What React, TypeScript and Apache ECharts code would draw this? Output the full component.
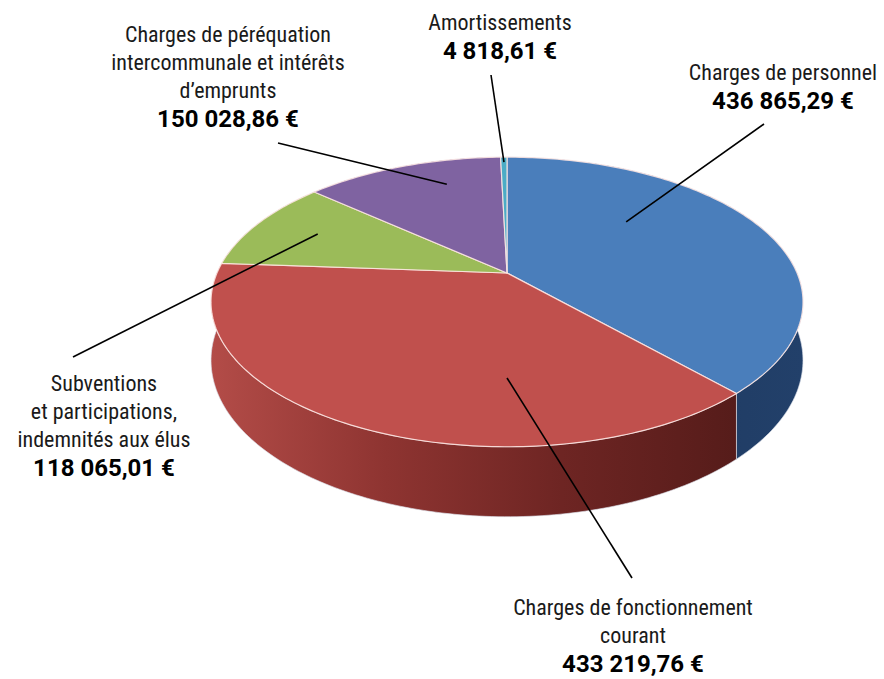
import React, { useEffect, useRef } from 'react';
import * as echarts from 'echarts';

// ---- data ----
const categories: string[] = [
  'Charges de personnel',
  'Charges de fonctionnement\ncourant',
  'Subventions\net participations,\nindemnités aux élus',
  'Charges de péréquation\nintercommunale et intérêts\nd’emprunts',
  'Amortissements',
];
const values: number[] = [436865.29, 433219.76, 118065.01, 150028.86, 4818.61];

// ---- styles ----
const topColors = ['#4a7ebb', '#c0504d', '#9bbb59', '#7f63a1', '#4bacc6'];
const wallStops: string[][] = [
  ['#1d365a', '#22406a'],
  ['#b34c48', '#8e3431', '#6e2523', '#561c1a'],
  ['#6f8a3c', '#5a7330'],
  ['#5a4578', '#4a3866'],
  ['#2f7d92', '#2a6f82'],
];

// label layout: anchor inside slice (theta deg, radius fraction), line end, text centre, first baseline
const labelLayout = [
  { theta: 48.2, r: 0.595, ex: 764, ey: 124, tx: 783, ty: 83 },
  { theta: 180, r: 0.656, ex: 632, ey: 578, tx: 633, ty: 618 },
  { theta: 293.3, r: 0.753, ex: 73, ey: 357, tx: 104, ty: 394 },
  { theta: 342, r: 0.77, ex: 278, ey: 143, tx: 228, ty: 45 },
  { theta: 359.25, r: 0.95, ex: 491, ey: 75, tx: 500, ty: 33 },
];

// ---- geometry of the tilted disc ----
const CX = 507;
const CY = 273;
const RA = 290;
const RB = 139;
const PERSP = 0.2;
const DEPTH = 56;
const FONT = "'Liberation Sans Narrow', 'Roboto Condensed', 'Open Sans', sans-serif";
const BOLD_FONT = "Roboto, 'Open Sans', sans-serif";
const LINE_H = 28;

function proj(theta: number, r: number, drop: number): number[] {
  const u = r * Math.sin(theta);
  const v = r * Math.cos(theta);
  const w = 1 + PERSP * v;
  return [CX + (RA * u) / w, CY - (RB * v) / w + drop / w];
}

function fmt(v: number): string {
  const [i, d] = v.toFixed(2).split('.');
  return i.replace(/\B(?=(\d{3})+(?!\d))/g, ' ') + ',' + d + ' €';
}

const total = values.reduce((a, b) => a + b, 0);
function sliceAngles(idx: number): number[] {
  let acc = 0;
  for (let k = 0; k < idx; k++) acc += values[k];
  const a0 = (acc / total) * Math.PI * 2;
  const a1 = ((acc + values[idx]) / total) * Math.PI * 2;
  return [a0, a1];
}

function arcPoints(a0: number, a1: number, drop: number): number[][] {
  const n = Math.max(2, Math.ceil(((a1 - a0) * 180) / Math.PI));
  const pts: number[][] = [];
  for (let k = 0; k <= n; k++) pts.push(proj(a0 + ((a1 - a0) * k) / n, 1, drop));
  return pts;
}

export default function App() {
  const ref = useRef<HTMLDivElement>(null);
  useEffect(() => {
    if (!ref.current) return;
    const chart = echarts.init(ref.current, undefined, { renderer: 'svg' });

    const graphics: any[] = [];
    values.forEach((v, i) => {
      const L = labelLayout[i];
      const s = proj((L.theta * Math.PI) / 180, L.r, 0);
      graphics.push({
        type: 'line',
        z: 10,
        shape: { x1: s[0], y1: s[1], x2: L.ex, y2: L.ey },
        style: { stroke: '#000', lineWidth: 1.6 },
      });
      const lines = categories[i].split('\n');
      lines.forEach((t, j) => {
        graphics.push({
          type: 'text',
          z: 10,
          style: {
            text: t,
            x: L.tx,
            y: L.ty + j * LINE_H,
            align: 'center',
            verticalAlign: 'bottom',
            font: `normal 22px ${FONT}`,
            fill: '#1a1a1a',
          },
        });
      });
      graphics.push({
        type: 'text',
        z: 10,
        style: {
          text: fmt(v),
          x: L.tx,
          y: L.ty + lines.length * LINE_H + 2,
          align: 'center',
          verticalAlign: 'bottom',
          font: `bold 24px ${BOLD_FONT}`,
          fill: '#000',
        },
      });
    });

    chart.setOption({
      animation: false,
      backgroundColor: '#ffffff',
      graphic: graphics,
      series: [
        {
          type: 'custom',
          name: 'walls',
          coordinateSystem: 'none',
          z: 1,
          silent: true,
          data: values,
          renderItem: (params: any) => {
            const i = params.dataIndex;
            const [a0, a1] = sliceAngles(i);
            const top = arcPoints(a0, a1, 0);
            const bot = arcPoints(a0, a1, DEPTH).reverse();
            const stops = wallStops[i];
            return {
              type: 'polygon',
              shape: { points: top.concat(bot) },
              style: {
                fill: {
                  type: 'linear',
                  x: 0,
                  y: 0,
                  x2: 1,
                  y2: 0,
                  colorStops: stops.map((c, k) => ({ offset: k / (stops.length - 1), color: c })),
                },
                stroke: 'rgba(220,225,235,0.8)',
                lineWidth: 0.8,
              },
            };
          },
        },
        {
          type: 'custom',
          name: 'tops',
          coordinateSystem: 'none',
          z: 2,
          silent: true,
          data: values,
          renderItem: (params: any) => {
            const i = params.dataIndex;
            const [a0, a1] = sliceAngles(i);
            const pts = [[CX, CY]].concat(arcPoints(a0, a1, 0));
            return {
              type: 'polygon',
              shape: { points: pts },
              style: {
                fill: topColors[i],
                stroke: 'rgba(255,232,228,0.85)',
                lineWidth: 1.2,
                lineJoin: 'round',
              },
            };
          },
        },
      ],
    });
    return () => chart.dispose();
  }, []);
  return (
    <div
      ref={ref}
      style={{ position: 'fixed', left: 0, top: 0, width: 884, height: 679, background: '#fff' }}
    />
  );
}
